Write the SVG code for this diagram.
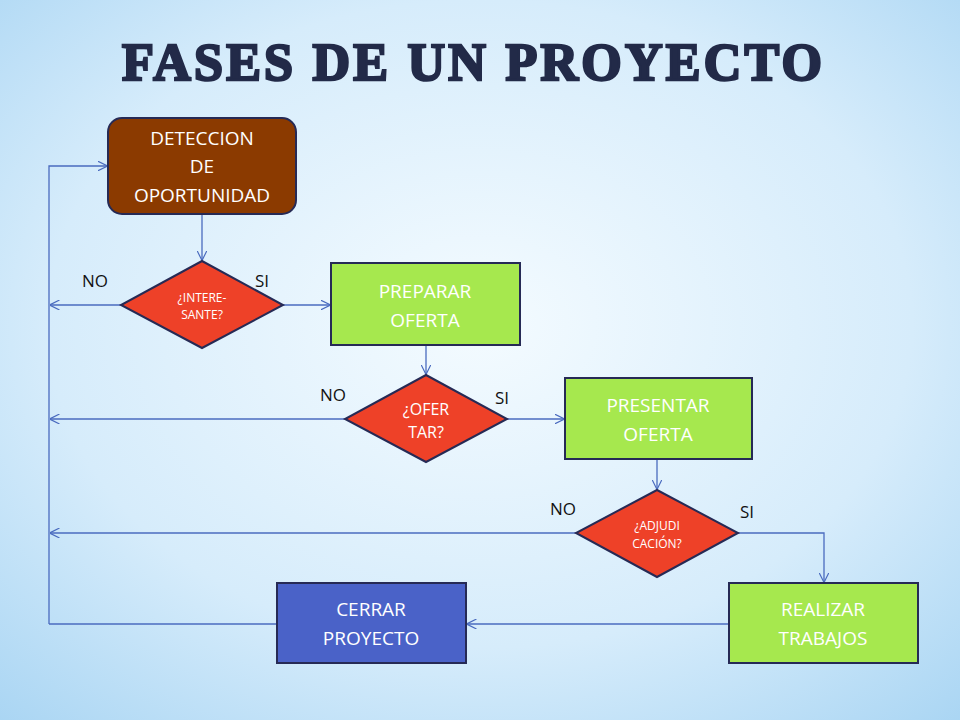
<svg xmlns="http://www.w3.org/2000/svg" width="960" height="720" viewBox="0 0 960 720">
<defs>
<radialGradient id="bg" cx="0.5" cy="0.45" r="0.75">
<stop offset="0" stop-color="#f4fbff"/><stop offset="0.6" stop-color="#d6ecfb"/><stop offset="1" stop-color="#a9d5f3"/>
</radialGradient>
<marker id="ar" viewBox="0 0 10 10" refX="9.5" refY="5" markerWidth="10" markerHeight="10" markerUnits="userSpaceOnUse" orient="auto">
<path d="M0,0 L10,5 L0,10" fill="none" stroke="#4a6bbf" stroke-width="1.2"/>
</marker>
</defs>
<style>
.t{font-family:"Open Sans","Liberation Sans",sans-serif;text-anchor:middle;fill:#fff}
.b{font-size:19px}.s{font-size:12px}.d{font-size:16px}
.l{font-family:"Open Sans","Liberation Sans",sans-serif;font-size:17px;fill:#111;text-anchor:middle}
.c{fill:none;stroke:#4a6bbf;stroke-width:1.3}
.n{stroke:#262a55;stroke-width:2}
</style>
<rect width="960" height="720" fill="url(#bg)"/>
<text x="472" y="80" font-family="'Liberation Serif',serif" font-weight="bold" font-size="52" fill="#222a48" text-anchor="middle" stroke="#222a48" stroke-width="2.5" textLength="700">FASES DE UN PROYECTO</text>
<g id="connectors" class="c">
<polyline points="49,624 49,166 107,166" marker-end="url(#ar)"/>
<line x1="121" y1="305" x2="50" y2="305" marker-end="url(#ar)"/>
<line x1="345" y1="419" x2="50" y2="419" marker-end="url(#ar)"/>
<line x1="576" y1="533" x2="50" y2="533" marker-end="url(#ar)"/>
<line x1="277" y1="624" x2="49" y2="624"/>
<line x1="729" y1="624" x2="467" y2="624" marker-end="url(#ar)"/>
<polyline points="738,533 824,533 824,582" marker-end="url(#ar)"/>
<line x1="202" y1="214" x2="202" y2="260" marker-end="url(#ar)"/>
<line x1="283" y1="305" x2="330" y2="305" marker-end="url(#ar)"/>
<line x1="426" y1="345" x2="426" y2="374" marker-end="url(#ar)"/>
<line x1="507" y1="419" x2="564" y2="419" marker-end="url(#ar)"/>
<line x1="657" y1="459" x2="657" y2="489" marker-end="url(#ar)"/>
</g>
<g id="deteccion"><rect class="n" x="108" y="118" width="188" height="96" rx="14" fill="#8b3a00"/>
<text class="t b" x="202" y="145">DETECCION</text><text class="t b" x="202" y="173">DE</text><text class="t b" x="202" y="202">OPORTUNIDAD</text></g>
<g id="d1"><polygon class="n" points="202,261 283,305 202,348 121,305" fill="#ee4128"/>
<text class="t s" x="202" y="302">¿INTERE-</text><text class="t s" x="202" y="319">SANTE?</text></g>
<g id="preparar"><rect class="n" x="331" y="263" width="189" height="82" fill="#a6e84e"/>
<text class="t b" x="425" y="298">PREPARAR</text><text class="t b" x="425" y="327">OFERTA</text></g>
<g id="d2"><polygon class="n" points="426,375 507,419 426,462 345,419" fill="#ee4128"/>
<text class="t d" x="426" y="415">¿OFER</text><text class="t d" x="426" y="438">TAR?</text></g>
<g id="presentar"><rect class="n" x="565" y="378" width="187" height="81" fill="#a6e84e"/>
<text class="t b" x="658" y="412">PRESENTAR</text><text class="t b" x="658" y="441">OFERTA</text></g>
<g id="d3"><polygon class="n" points="657,490 738,533 657,577 576,533" fill="#ee4128"/>
<text class="t s" x="657" y="530">¿ADJUDI</text><text class="t s" x="657" y="548">CACIÓN?</text></g>
<g id="realizar"><rect class="n" x="729" y="583" width="189" height="80" fill="#a6e84e"/>
<text class="t b" x="823" y="616">REALIZAR</text><text class="t b" x="823" y="645">TRABAJOS</text></g>
<g id="cerrar"><rect class="n" x="277" y="583" width="189" height="80" fill="#4a62c8"/>
<text class="t b" x="371" y="616">CERRAR</text><text class="t b" x="371" y="645">PROYECTO</text></g>
<g id="labels">
<text class="l" x="95" y="287">NO</text><text class="l" x="262" y="287">SI</text>
<text class="l" x="333" y="401">NO</text><text class="l" x="502" y="404">SI</text>
<text class="l" x="563" y="515">NO</text><text class="l" x="747" y="518">SI</text>
</g>
</svg>
